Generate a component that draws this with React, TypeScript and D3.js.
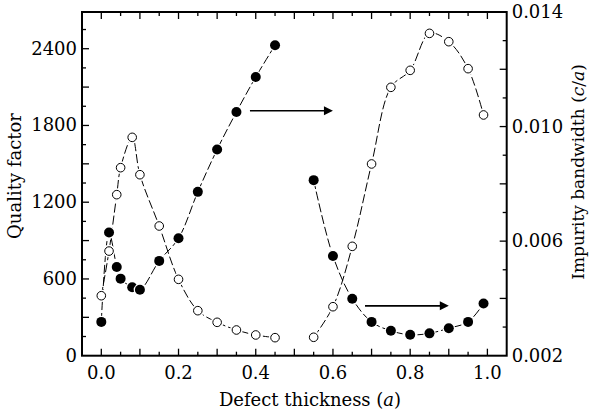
import React from "react";
import * as d3 from "d3";

// defect thickness (units of a)
const thickness = [0, 0.02, 0.04, 0.05, 0.08, 0.1, 0.15, 0.2, 0.25, 0.3, 0.35, 0.4, 0.45, 0.55, 0.6, 0.65, 0.7, 0.75, 0.8, 0.85, 0.9, 0.95, 0.99];
// open circles, left axis
const qualityFactor = [469, 818, 1259, 1470, 1707, 1415, 1014, 597, 352, 261, 201, 162, 141, 144, 383, 855, 1499, 2098, 2231, 2520, 2455, 2244, 1882];
// filled circles, right axis
const bandwidth = [0.00318, 0.0063, 0.0051, 0.00469, 0.00439, 0.0043, 0.00531, 0.0061, 0.00772, 0.0092, 0.01051, 0.01173, 0.01284, 0.00813, 0.00548, 0.00399, 0.00318, 0.00287, 0.00273, 0.00278, 0.00296, 0.00318, 0.00382];

const xTickLabels = [0, 0.2, 0.4, 0.6, 0.8, 1.0];
const qTickLabels = [0, 600, 1200, 1800, 2400];
const bwTickLabels = [0.002, 0.006, 0.01, 0.014];

// arrows pointing at the right axis (data units)
const arrowStart = [0.385, 0.683];
const arrowEnd = [0.6, 0.9];
const arrowLevel = [0.01055, 0.00374];

const W = 590;
const H = 416;
const font = "'DejaVu Serif', serif";

export default function App() {
  const x = d3.scaleLinear().domain([-0.05, 1.05]).range([82, 506.7]);
  const yQ = d3.scaleLinear().domain([0, 2687]).range([355.7, 12]);
  const yB = d3.scaleLinear().domain([0.002, 0.014]).range([355.7, 12]);
  const [x0, x1] = x.range();
  const [yBot, yTop] = yQ.range();

  const pts = thickness.map((t, i) => ({ t, q: qualityFactor[i], b: bandwidth[i] }));
  const left = pts.filter(p => p.t < 0.5);
  const right = pts.filter(p => p.t > 0.5);

  const qLine = d3.line<any>().x(d => x(d.t)).y(d => yQ(d.q)).curve(d3.curveCatmullRom);
  const bLine = d3.line<any>().x(d => x(d.t)).y(d => yB(d.b)).curve(d3.curveCatmullRom);

  const xTicks = d3.range(0, 21).map(i => i * 0.05);
  const qTicks = d3.range(1, 18).map(i => i * 150);
  const bTicks = d3.range(3, 14).map(i => i / 1000);

  return (
    <svg width={W} height={H} style={{ position: "absolute", left: 0, top: 0, background: "#fff" }} fontFamily={font}>
      {/* lines */}
      {[left, right].map((seg, i) => (
        <g key={i} fill="none" stroke="#000" strokeWidth={1}>
          <path d={qLine(seg) || ""} strokeDasharray="9,3" />
          <path d={bLine(seg) || ""} strokeDasharray="9,3" />
        </g>
      ))}
      {/* markers */}
      {pts.map((p, i) => (
        <g key={i}>
          <circle cx={x(p.t)} cy={yQ(p.q)} r={4.3} fill="#fff" stroke="#fff" strokeWidth={4} />
          <circle cx={x(p.t)} cy={yQ(p.q)} r={4.3} fill="#fff" stroke="#000" strokeWidth={1} />
          <circle cx={x(p.t)} cy={yB(p.b)} r={5} fill="#000" stroke="#fff" strokeWidth={2.5} paintOrder="stroke" />
        </g>
      ))}
      {/* arrows */}
      {arrowStart.map((s, i) => {
        const ay = yB(arrowLevel[i]);
        const ex = x(arrowEnd[i]);
        return (
          <g key={i}>
            <line x1={x(s)} x2={ex - 8} y1={ay} y2={ay} stroke="#000" strokeWidth={1.6} />
            <path d={`M${ex},${ay} L${ex - 9},${ay - 4.5} L${ex - 9},${ay + 4.5} Z`} fill="#000" />
          </g>
        );
      })}
      {/* ticks */}
      <g stroke="#000" strokeWidth={1.3}>
        {xTicks.map((t, i) => {
          const len = i % 2 === 0 ? 7 : 4;
          return (
            <g key={i}>
              <line x1={x(t)} x2={x(t)} y1={yBot} y2={yBot - len} />
              <line x1={x(t)} x2={x(t)} y1={yTop} y2={yTop + len} />
            </g>
          );
        })}
        {qTicks.map((t, i) => (
          <line key={i} x1={x0} x2={x0 + (t % 300 === 0 ? 7 : 4)} y1={yQ(t)} y2={yQ(t)} />
        ))}
        {bTicks.map((t, i) => (
          <line key={i} x1={x1} x2={x1 - (Math.round(t * 1000) % 2 === 0 ? 7 : 4)} y1={yB(t)} y2={yB(t)} />
        ))}
      </g>
      {/* frame */}
      <rect x={x0} y={yTop} width={x1 - x0} height={yBot - yTop} fill="none" stroke="#000" strokeWidth={2} />
      {/* tick labels */}
      <g fontSize={18} fill="#000">
        {xTickLabels.map((t, i) => (
          <text key={i} x={x(t)} y={yBot + 23} textAnchor="middle">{d3.format(".1f")(t)}</text>
        ))}
        {qTickLabels.map((t, i) => (
          <text key={i} x={x0 - 5} y={yQ(t) + 6} textAnchor="end">{t}</text>
        ))}
        {bwTickLabels.map((t, i) => (
          <text key={i} x={x1 + 5} y={yB(t) + 6} textAnchor="start">{d3.format(".3f")(t)}</text>
        ))}
      </g>
      {/* axis titles */}
      <g fontSize={17} fill="#000">
        <text x={310} y={406} textAnchor="middle" fontSize={18}>
          Defect thickness (<tspan fontStyle="italic">a</tspan>)
        </text>
        <text transform={`translate(21,${176}) rotate(-90)`} textAnchor="middle" fontSize={18}>Quality factor</text>
        <text transform={`translate(584,${172}) rotate(-90)`} textAnchor="middle">
          Impurity bandwidth (<tspan fontStyle="italic">c</tspan>/<tspan fontStyle="italic">a</tspan>)
        </text>
      </g>
    </svg>
  );
}
